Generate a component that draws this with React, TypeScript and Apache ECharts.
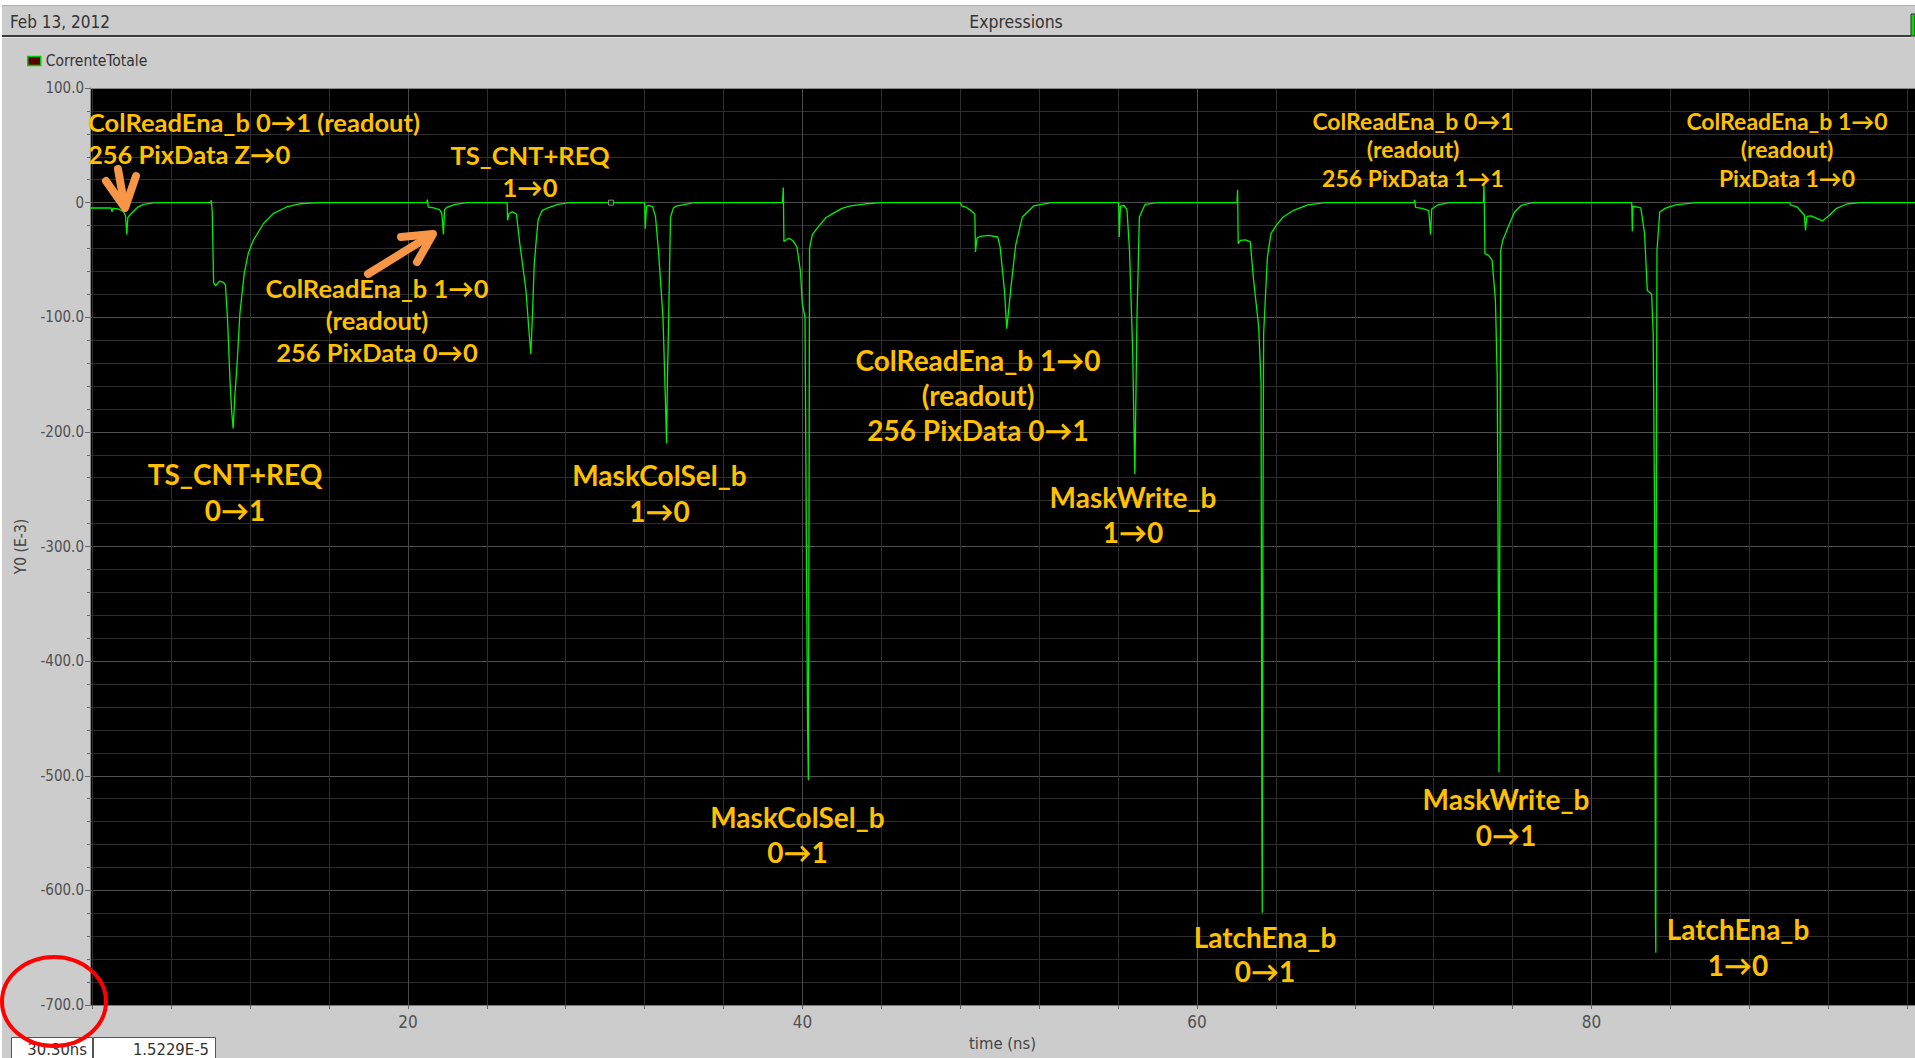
import React, { useEffect, useRef } from "react";
import * as echarts from "echarts";

// ---- data ----
const timeNs: number[] = [
  3.883, 4.95, 5.0, 5.04, 5.3, 5.55, 5.68, 5.75, 5.8, 6.0, 6.3, 6.6, 7.1, 7.6,
  10.0, 10.03, 10.08, 10.15, 10.25, 10.45, 10.65, 10.75, 10.85, 10.98, 11.06, 11.14, 11.22, 11.35, 11.48, 11.7, 11.91, 12.16, 12.67, 13.17, 13.85, 14.5, 15.5,
  20.95, 20.99, 21.03, 21.3, 21.6, 21.72, 21.8, 21.86, 22.0, 22.4, 23.0,
  25.03, 25.05, 25.12, 25.3, 25.5, 25.68, 25.98, 26.15, 26.23, 26.32, 26.4, 26.48, 26.6, 26.8, 27.1, 27.6, 28.2,
  32.0, 32.03, 32.1, 32.2, 32.4, 32.55, 32.7, 32.93, 33.05, 33.11, 33.16, 33.22, 33.31, 33.45, 33.6, 34.5,
  38.99, 39.03, 39.06, 39.3, 39.5, 39.72, 39.9, 39.99, 40.13, 40.2, 40.26, 40.3, 40.33, 40.36, 40.5, 40.85, 41.2, 41.53, 42.0, 42.43, 43.2, 44.0,
  48.0, 48.08, 48.3, 48.55, 48.74, 48.77, 48.85, 49.0, 49.45, 49.9, 50.02, 50.24, 50.36, 50.58, 50.81, 51.15, 51.72, 52.6,
  56.03, 56.06, 56.12, 56.3, 56.45, 56.58, 56.74, 56.85, 56.96, 57.08, 57.37, 58.0,
  62.03, 62.06, 62.09, 62.2, 62.45, 62.7, 62.86, 63.13, 63.25, 63.29, 63.31, 63.34, 63.38, 63.57, 63.75, 64.02, 64.37, 64.9, 65.62, 66.5,
  71.0, 71.04, 71.08, 71.4, 71.75, 71.84, 71.9, 72.2, 72.8,
  74.52, 74.55, 74.6, 74.78, 74.96, 75.13, 75.22, 75.28, 75.31, 75.35, 75.4, 75.5, 75.84, 76.1, 76.45, 77.0,
  82.04, 82.07, 82.1, 82.5, 82.69, 82.83, 83.05, 83.13, 83.2, 83.24, 83.26, 83.28, 83.32, 83.46, 83.73, 84.26, 85.3,
  90.05, 90.09, 90.44, 90.79, 90.85, 90.92, 91.13, 91.71, 92.06, 92.4, 92.98, 93.67, 96.4,
];

const currentE3: number[] = [
  -4.7, -4.7, -8.0, -4.9, -5.5, -7.5, -11, -27.7, -13, -9, -4, -1.5, -0.3, 0,
  0, 2.0, -8, -70, -72.5, -68.5, -69.5, -72, -100, -155, -181, -197, -170, -138, -97, -62, -44, -33, -18.4, -9.6, -3.8, -1, 0,
  0, 2.6, -3.9, -4.5, -6, -9.6, -27.7, -6, -3.9, -1.5, 0,
  0, -15.5, -9.5, -8, -10, -37, -76, -115, -132, -95, -55, -38, -15, -7, -4.5, -1.5, 0,
  0, -22.7, -3, -2.5, -3.5, -12, -42, -100, -170, -210, -150, -100, -13, -5, -3, 0,
  0, 13.1, -34, -31, -33, -38.6, -60, -88, -100, -300, -455, -504, -300, -40, -28, -20, -13, -9.6, -5, -2.9, -1, 0,
  0, -2.9, -4, -7, -10, -43, -31, -29.5, -28.5, -30, -38.6, -76.6, -110, -72, -37, -12.5, -2.9, 0,
  0, -30, -3, -2.5, -6, -41.7, -129, -236.7, -100, -12.5, -1.5, 0,
  0, 11.3, -35.8, -33, -32.5, -34, -65.8, -108.6, -158, -535, -619.5, -300, -114, -47.5, -27, -19.8, -12.5, -6.7, -1.9, 0,
  0, 2.4, -4.2, -5, -7, -27.7, -5.5, -2, 0,
  0, 17, -44.5, -46, -50, -85, -152, -344, -497, -300, -41.7, -33, -18.4, -8.2, -2.3, 0,
  0, -25, -3, -4.5, -27, -76.6, -80, -116, -274.6, -622, -654.5, -300, -41.7, -8.2, -5, -2, 0,
  0, -2, -4, -11, -24.2, -12, -11.6, -16, -11, -5.3, -1, 0, 0,
];

const xMin = 3.883;
const xMax = 96.4;
const yMin = -700;
const yMax = 100;
const yInterval = 100;
const xLabelTicks = [20, 40, 60, 80];
const xGridTicks = [4, 8, 12, 16, 20, 24, 28, 32, 36, 40, 44, 48, 52, 56, 60, 64, 68, 72, 76, 80, 84, 88, 92, 96];
const cursorPoint = [30.3, 0];
const seriesName = "CorrenteTotale";
const headerDate = "Feb 13, 2012";
const headerTitle = "Expressions";
const readoutTime = "30.30ns";
const readoutValue = "1.5229E-5";
const xAxisTitle = "time (ns)";
const yAxisTitle = "Y0 (E-3)";

const annotationLines: string[][] = [
  ["ColReadEna_b 0→1 (readout)", "256 PixData Z→0"],
  ["TS_CNT+REQ", "1→0"],
  ["ColReadEna_b 1→0", "(readout)", "256 PixData 0→0"],
  ["TS_CNT+REQ", "0→1"],
  ["MaskColSel_b", "1→0"],
  ["MaskColSel_b", "0→1"],
  ["ColReadEna_b 1→0", "(readout)", "256 PixData 0→1"],
  ["MaskWrite_b", "1→0"],
  ["LatchEna_b", "0→1"],
  ["MaskWrite_b", "0→1"],
  ["LatchEna_b", "1→0"],
  ["ColReadEna_b 0→1", "(readout)", "256 PixData 1→1"],
  ["ColReadEna_b 1→0", "(readout)", "PixData 1→0"],
];

// ---- layout (pixels) ----
const UI_FONT = '"DejaVu Sans Condensed", "DejaVu Sans", sans-serif';
const NOTE_FONT = 'Lato, "Open Sans", sans-serif';
const NOTE_COLOR = "#FFC000";
const ARROW_COLOR = "#F79646";
const L = 28, M = 25.5, S = 23;
// [x, centerY, fontSize, lineHeight, align]
const annotationLayout: [number, number, number, number, string][] = [
  [88, 138, M, 32, "left"],
  [530, 171, M, 32, "center"],
  [377, 320, M, 32, "center"],
  [235, 492, L, 36, "center"],
  [659.5, 493, L, 35.5, "center"],
  [797.5, 834, L, 35, "center"],
  [978, 395, L, 35, "center"],
  [1133, 514, L, 35, "center"],
  [1265, 954, L, 34.5, "center"],
  [1506, 817, L, 35.5, "center"],
  [1738, 947, L, 35.5, "center"],
  [1413, 149, S, 28.5, "center"],
  [1787, 149, S, 28.5, "center"],
];

function buildGraphic() {
  const g: any[] = [];
  // page chrome
  g.push({ type: "rect", shape: { x: 0, y: 0, width: 1915, height: 5 }, style: { fill: "#ffffff" }, z: 1 });
  g.push({ type: "rect", shape: { x: 0, y: 0, width: 2, height: 1058 }, style: { fill: "#ffffff" }, z: 1 });
  g.push({ type: "line", shape: { x1: 2, y1: 5.5, x2: 1915, y2: 5.5 }, style: { stroke: "#b0b0b0", lineWidth: 1 }, z: 1 });
  g.push({ type: "line", shape: { x1: 2, y1: 36, x2: 1911, y2: 36 }, style: { stroke: "#3a3a3a", lineWidth: 2 }, z: 1 });
  g.push({ type: "line", shape: { x1: 2, y1: 37.5, x2: 1911, y2: 37.5 }, style: { stroke: "#e6e6e6", lineWidth: 1 }, z: 1 });
  g.push({ type: "rect", shape: { x: 1911, y: 14, width: 4, height: 22 }, style: { fill: "#00dd00", stroke: "#333", lineWidth: 1 }, z: 1 });
  g.push({
    type: "text", x: 10, y: 22,
    style: { text: headerDate, fill: "#333", fontSize: 17, fontFamily: UI_FONT, align: "left", verticalAlign: "middle", textAlign: "left", textVerticalAlign: "middle" },
    z: 2,
  });
  g.push({
    type: "text", x: 1016, y: 22,
    style: { text: headerTitle, fill: "#333", fontSize: 17.5, fontFamily: UI_FONT, align: "center", verticalAlign: "middle", textAlign: "center", textVerticalAlign: "middle" },
    z: 2,
  });
  // readout boxes
  g.push({ type: "rect", shape: { x: 11.5, y: 1037.5, width: 81, height: 30 }, style: { fill: "#ffffff", stroke: "#555", lineWidth: 1 }, z: 2 });
  g.push({ type: "rect", shape: { x: 93.5, y: 1037.5, width: 122, height: 30 }, style: { fill: "#ffffff", stroke: "#555", lineWidth: 1 }, z: 2 });
  g.push({
    type: "text", x: 87, y: 1049,
    style: { text: readoutTime, fill: "#333", fontSize: 16.5, fontFamily: UI_FONT, align: "right", verticalAlign: "middle", textAlign: "right", textVerticalAlign: "middle" },
    z: 3,
  });
  g.push({
    type: "text", x: 209, y: 1049,
    style: { text: readoutValue, fill: "#333", fontSize: 16.5, fontFamily: UI_FONT, align: "right", verticalAlign: "middle", textAlign: "right", textVerticalAlign: "middle" },
    z: 3,
  });
  // annotations
  annotationLines.forEach((lines, i) => {
    const [x, y, size, lh, align] = annotationLayout[i];
    g.push({
      type: "text", x, y,
      style: {
        text: lines.join("\n"), fill: NOTE_COLOR, fontSize: size, fontWeight: "bold", fontFamily: NOTE_FONT,
        lineHeight: lh, align, verticalAlign: "middle", textAlign: align, textVerticalAlign: "middle",
      },
      z: 50,
    });
  });
  // orange arrows
  const arrowStyle = { stroke: ARROW_COLOR, lineWidth: 8, lineCap: "round", lineJoin: "round", fill: null };
  g.push({ type: "line", shape: { x1: 118, y1: 169, x2: 124.5, y2: 206 }, style: arrowStyle, z: 60 });
  g.push({ type: "polyline", shape: { points: [[106, 181], [125, 208], [136, 176]] }, style: arrowStyle, z: 60 });
  g.push({ type: "line", shape: { x1: 368, y1: 274, x2: 431, y2: 235 }, style: arrowStyle, z: 60 });
  g.push({ type: "polyline", shape: { points: [[401, 237], [433, 234], [417, 262]] }, style: arrowStyle, z: 60 });
  // red ellipse
  g.push({ type: "ellipse", shape: { cx: 54, cy: 1001.5, rx: 52, ry: 44.5 }, style: { fill: null, stroke: "#ff0000", lineWidth: 4 }, z: 70 });
  return g;
}

export default function App() {
  const ref = useRef<HTMLDivElement>(null);
  useEffect(() => {
    document.body.style.margin = "0";
    if (!ref.current) return;
    const chart = echarts.init(ref.current, undefined, { renderer: "svg" });
    const lineData = timeNs.map((t, i) => [t, currentE3[i]]);
    const option: any = {
      animation: false,
      backgroundColor: "#cccccc",
      textStyle: { fontFamily: UI_FONT },
      legend: {
        show: true, left: 22, top: 48, itemWidth: 13, itemHeight: 9, icon: "rect",
        itemStyle: { color: "#5a0000", borderColor: "#00cc00", borderWidth: 1.5 },
        textStyle: { color: "#333", fontSize: 15.5, fontFamily: UI_FONT },
        data: [seriesName],
      },
      grid: { left: 90, right: 0, top: 88, bottom: 53, show: true, backgroundColor: "#000000", borderWidth: 0 },
      xAxis: [
        {
          type: "value", min: xMin, max: xMax, position: "bottom",
          axisLine: { show: true, onZero: false, lineStyle: { color: "#777", width: 1 } },
          axisTick: { show: true, length: 4, customValues: xGridTicks, lineStyle: { color: "#666" } },
          axisLabel: { show: true, customValues: xLabelTicks, color: "#505050", fontSize: 17, fontFamily: UI_FONT, margin: 8 },
          splitLine: { show: true, lineStyle: { color: "#2e2e2e", width: 1 } },
          name: xAxisTitle, nameLocation: "middle", nameGap: 27,
          nameTextStyle: { color: "#444", fontSize: 16.5, fontFamily: UI_FONT },
        },
        {
          type: "value", min: xMin, max: xMax, position: "top",
          axisLine: { show: true, onZero: false, lineStyle: { color: "#888", width: 1 } },
          axisTick: { show: false, customValues: xLabelTicks },
          axisLabel: { show: false },
          splitLine: { show: true, lineStyle: { color: "#4a4a4a", width: 1 } },
        },
      ],
      yAxis: {
        type: "value", min: yMin, max: yMax, interval: yInterval,
        axisLine: { show: true, onZero: false, lineStyle: { color: "#888", width: 1 } },
        axisTick: { show: true, length: 5, lineStyle: { color: "#666" } },
        minorTick: { show: true, splitNumber: 5, length: 3, lineStyle: { color: "#666" } },
        splitLine: { show: true, lineStyle: { color: "#505050", width: 1 } },
        minorSplitLine: { show: true, lineStyle: { color: "#2e2e2e", width: 1 } },
        axisLabel: {
          color: "#505050", fontSize: 15, fontFamily: UI_FONT, margin: 6,
          formatter: (v: number) => (v === 0 ? "0" : v.toFixed(1)),
        },
        name: yAxisTitle, nameLocation: "middle", nameGap: 61, nameRotate: 90,
        nameTextStyle: { color: "#444", fontSize: 15.5, fontFamily: UI_FONT },
      },
      series: [
        {
          name: seriesName, type: "line", data: lineData, showSymbol: false, symbol: "none",
          lineStyle: { color: "#00f000", width: 1.3 }, itemStyle: { color: "#00f000" }, z: 5,
        },
        {
          name: "cursor", type: "scatter", data: [cursorPoint], symbol: "rect", symbolSize: 5,
          itemStyle: { color: "#000", borderColor: "#aaaaaa", borderWidth: 1 }, z: 6, silent: true,
        },
      ],
      graphic: buildGraphic(),
    };
    chart.setOption(option);
    return () => chart.dispose();
  }, []);
  return <div ref={ref} style={{ width: 1915, height: 1058 }} />;
}
